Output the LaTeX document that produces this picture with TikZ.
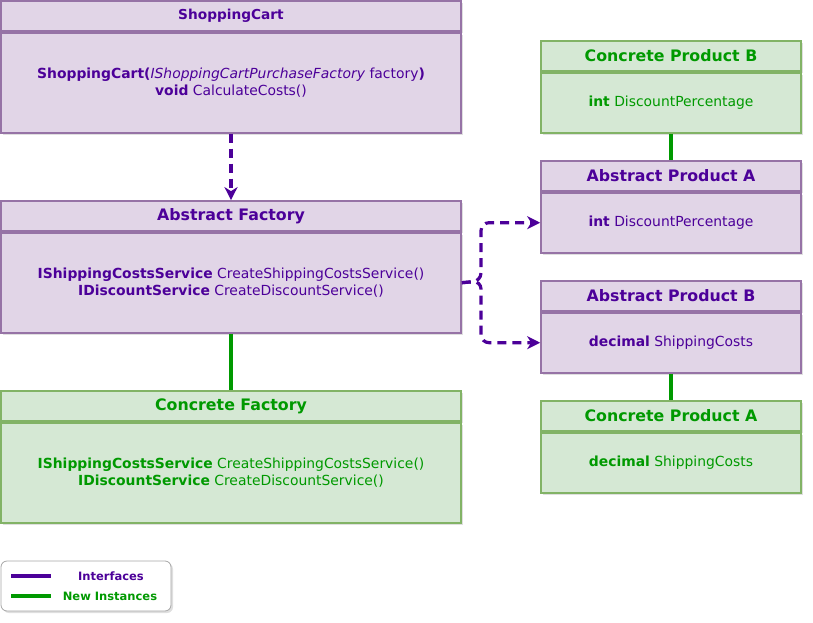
\documentclass[tikz,border=0pt]{standalone}
\usepackage{fontspec}
\setmainfont{DejaVu Sans}
\usetikzlibrary{positioning,arrows.meta,shadows}
\definecolor{ifacepurple}{HTML}{4C0099}
\definecolor{newgreen}{HTML}{009900}
\definecolor{lilacfill}{HTML}{E1D5E7}
\definecolor{lilacline}{HTML}{9673A6}
\definecolor{mintfill}{HTML}{D5E8D4}
\definecolor{mintline}{HTML}{82B366}
\newcommand{\kw}[1]{\textbf{#1}}

\begin{document}
\begin{tikzpicture}[x=1pt,y=-1pt,>={Stealth[length=13pt,width=13pt,inset=4pt]},
		box/.style={rectangle,line width=1.7pt,inner sep=0pt,align=center,
			drop shadow={shadow xshift=2pt,shadow yshift=-2pt,opacity=0.25}},
		phead/.style={box,draw=lilacline,fill=lilacfill,text=ifacepurple,font=\fontsize{15.8}{18}\selectfont\bfseries,minimum height=30pt},
		pbody/.style={box,draw=lilacline,fill=lilacfill,text=ifacepurple,font=\fontsize{13.9}{17}\selectfont},
		ghead/.style={box,draw=mintline,fill=mintfill,text=newgreen,font=\fontsize{15.8}{18}\selectfont\bfseries,minimum height=30pt},
		gbody/.style={box,draw=mintline,fill=mintfill,text=newgreen,font=\fontsize{13.9}{17}\selectfont},
		wide/.style={minimum width=460pt},
		narrow/.style={minimum width=260pt},
		iface/.style={draw=ifacepurple,line width=3.2pt,dash pattern=on 9pt off 6pt},
		newinst/.style={draw=newgreen,line width=3.2pt}]
		\useasboundingbox (0,0) rectangle (813,623);

		% left column
		\node[phead,wide,font=\fontsize{13.7}{16}\selectfont\bfseries] (cart) at (231,16) {ShoppingCart};
		\node[pbody,wide,minimum height=100pt] (cartbody) [below=0pt of cart]
			{\kw{ShoppingCart(}\textit{IShoppingCartPurchaseFactory} factory\kw{)}\\ \kw{void} CalculateCosts()};
		\node[phead,wide]  (af)        at (231,216) {Abstract Factory};
		\node[pbody,wide,minimum height=100pt] (afbody) [below=0pt of af]
			{\kw{IShippingCostsService} CreateShippingCostsService()\\ \kw{IDiscountService} CreateDiscountService()};
		\node[ghead,wide]  (cf)        at (231,406) {Concrete Factory};
		\node[gbody,wide,minimum height=100pt] (cfbody) [below=0pt of cf]
			{\kw{IShippingCostsService} CreateShippingCostsService()\\ \kw{IDiscountService} CreateDiscountService()};

		% right column
		\node[ghead,narrow] (cpb)      at (671,56)  {Concrete Product B};
		\node[gbody,narrow,minimum height=60pt] (cpbbody) [below=0pt of cpb] {\kw{int} DiscountPercentage};
		\node[phead,narrow] (apa)      at (671,176) {Abstract Product A};
		\node[pbody,narrow,minimum height=60pt] (apabody) [below=0pt of apa] {\kw{int} DiscountPercentage};
		\node[phead,narrow] (apb)      at (671,296) {Abstract Product B};
		\node[pbody,narrow,minimum height=60pt] (apbbody) [below=0pt of apb] {\kw{decimal} ShippingCosts};
		\node[ghead,narrow] (cpa)      at (671,416) {Concrete Product A};
		\node[gbody,narrow,minimum height=60pt] (cpabody) [below=0pt of cpa] {\kw{decimal} ShippingCosts};

		\coordinate (split) at (481,281);

		\draw[iface,->] (cartbody) -- (af);
		\draw[iface,->,rounded corners=8pt] (afbody.east) -- (split) |- (apabody.west);
		\draw[iface,->,rounded corners=8pt] (afbody.east) -- (split) |- (apbbody.west);
		\draw[newinst] (afbody) -- (cf);
		\draw[newinst] (cpbbody) -- (apa);
		\draw[newinst] (apbbody) -- (cpa);

		% legend
		\node[rectangle,rounded corners=6pt,draw=gray!70,fill=white,line width=0.8pt,minimum width=170pt,minimum height=50pt,
			drop shadow={shadow xshift=2pt,shadow yshift=-2pt,opacity=0.25}] (legend) at (86,586) {};
		\coordinate (ifa) at (11,576);
		\coordinate (ifb) at (51,576);
		\coordinate (nia) at (11,596);
		\coordinate (nib) at (51,596);
		\draw[draw=ifacepurple,line width=4.5pt] (ifa) -- (ifb);
		\draw[newinst,line width=4.5pt] (nia) -- (nib);
		\node[text=ifacepurple,font=\fontsize{11.5}{13}\selectfont\bfseries] (iflabel) at (111,576) {Interfaces};
		\node[text=newgreen,font=\fontsize{11.5}{13}\selectfont\bfseries] (nilabel) at (110,596) {New Instances};
\end{tikzpicture}
\end{document}
